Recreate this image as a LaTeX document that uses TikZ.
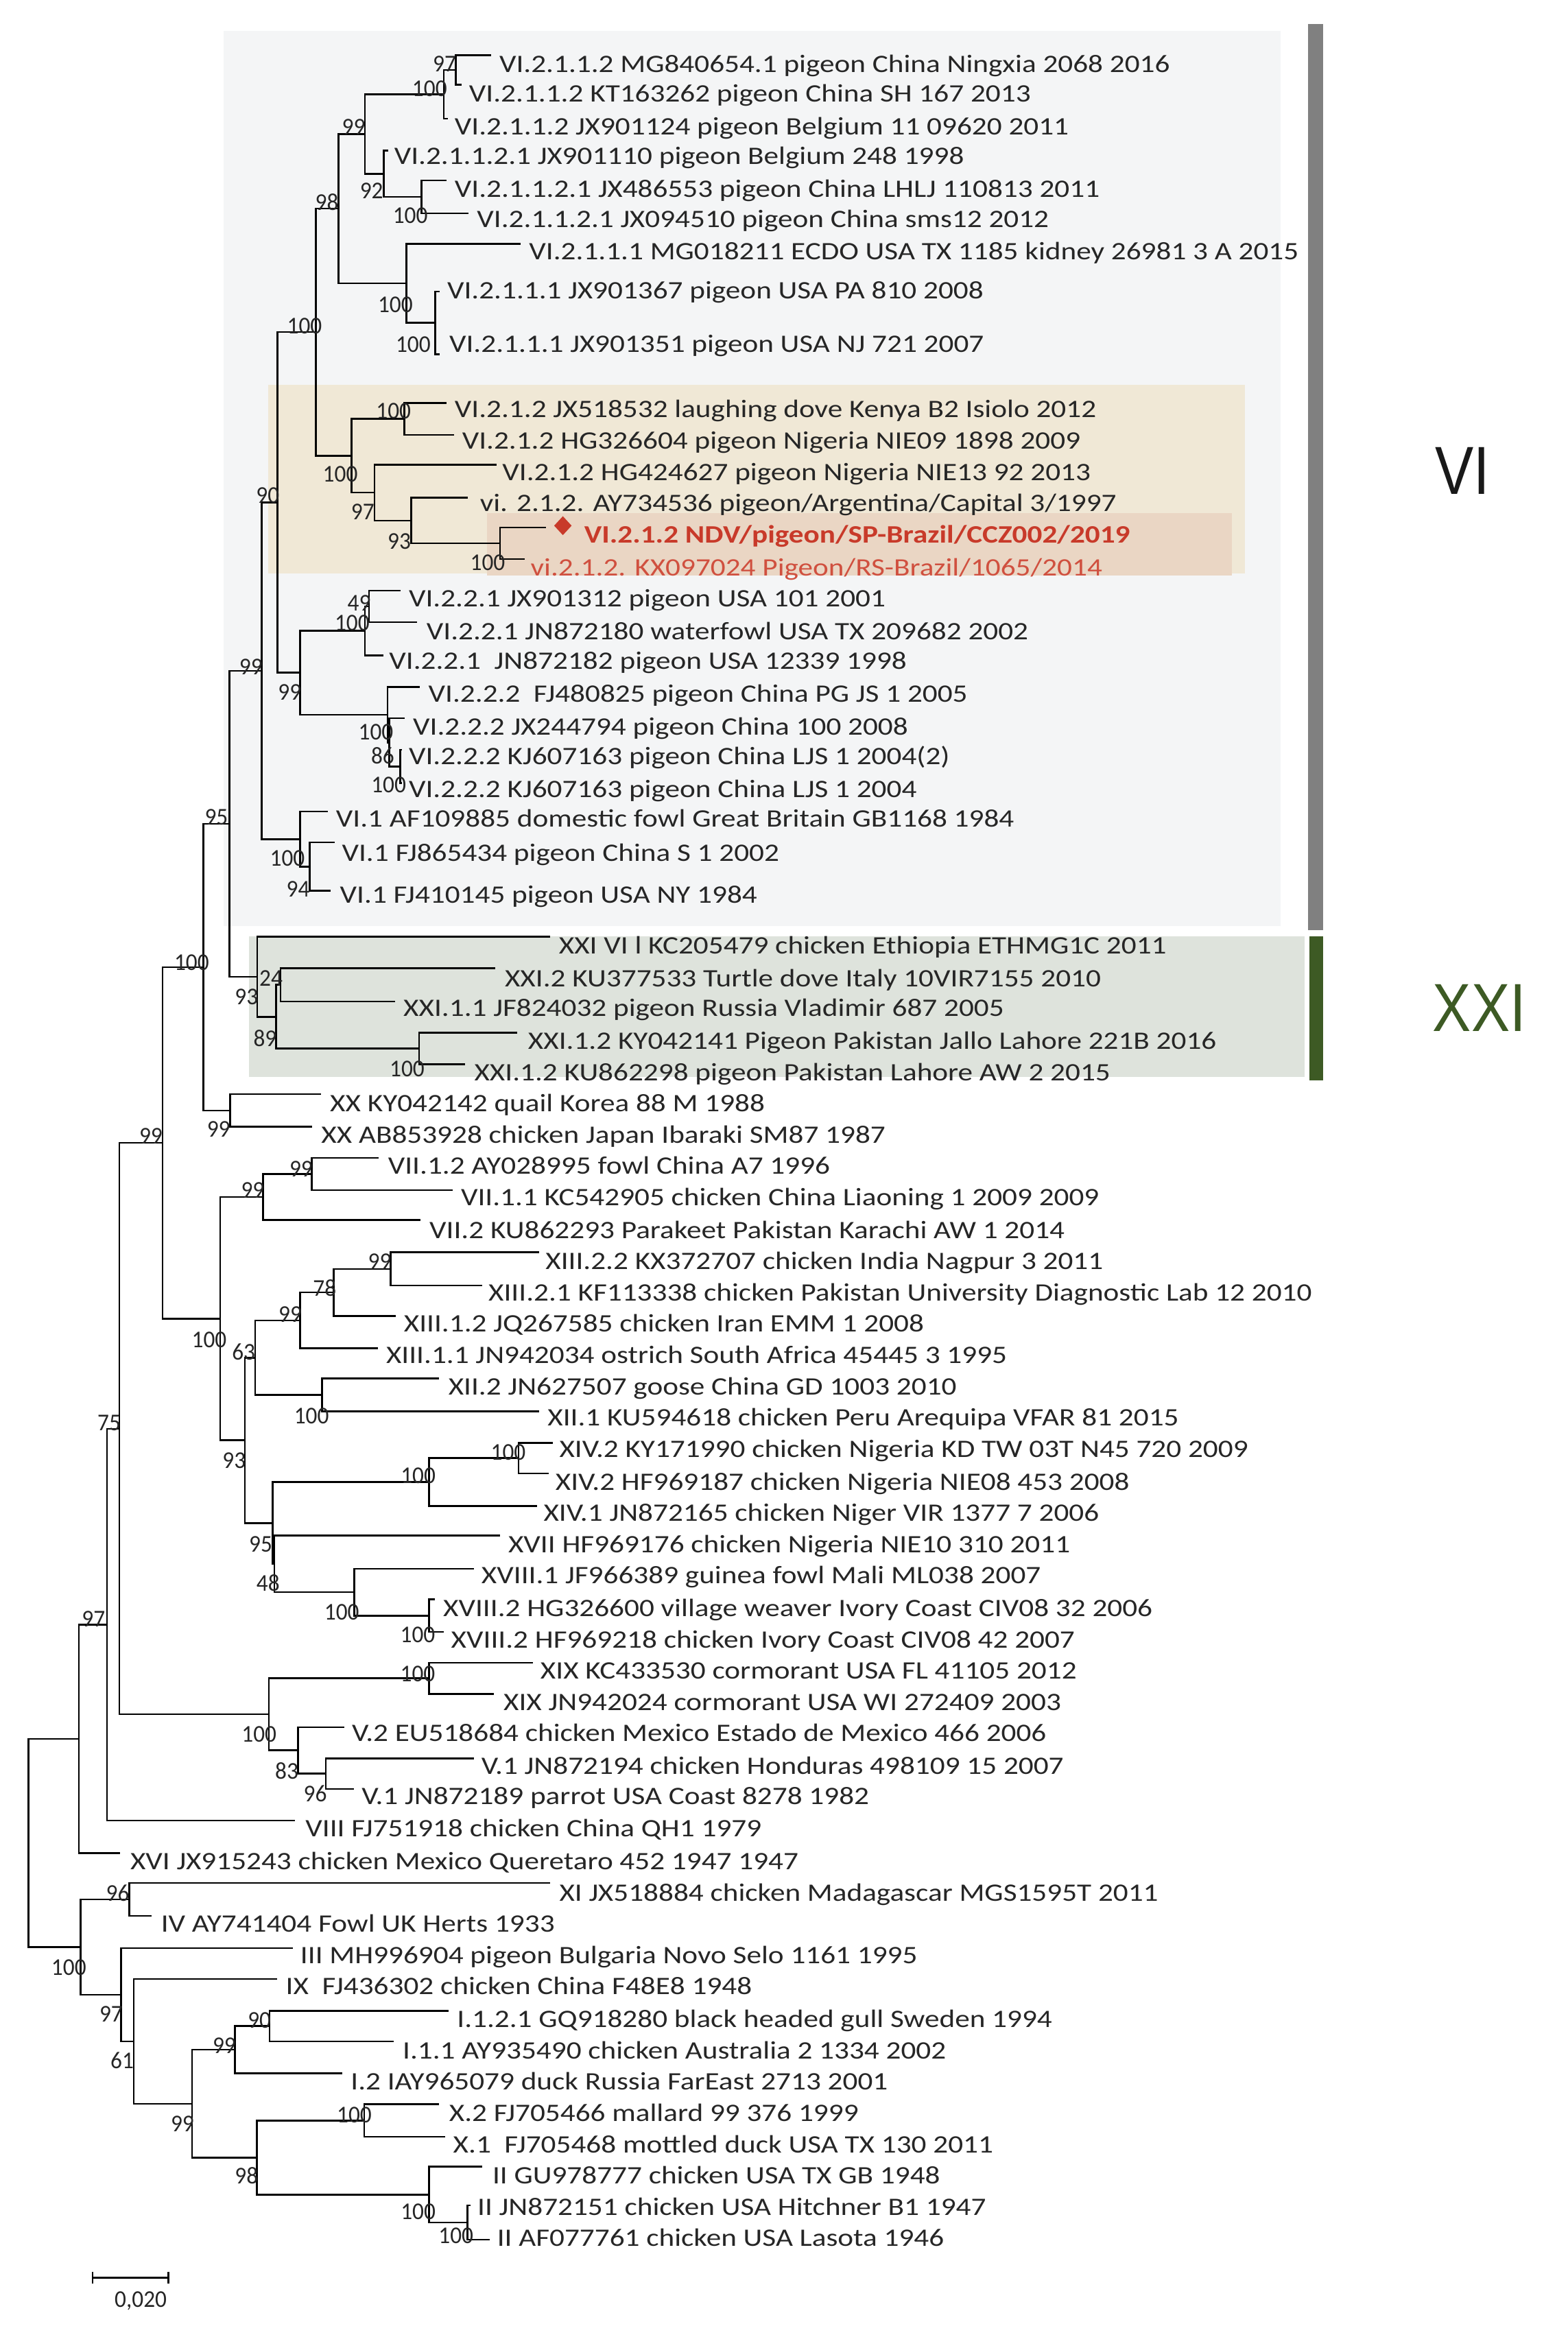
\documentclass[tikz,border=0pt]{standalone}
\usepackage{fontspec}
\setmainfont{Carlito}[FakeStretch=1.18]
\newfontfamily\bootfont{Carlito}[FakeStretch=0.95]
\newfontfamily\cladefont{Liberation Sans}[FakeStretch=0.85]
\usetikzlibrary{shapes.geometric}
\definecolor{txt}{HTML}{262626}
\definecolor{boxvi}{HTML}{F4F5F6}
\definecolor{boxsub}{HTML}{F0E8D6}
\definecolor{boxndv}{HTML}{EAD6C4}
\definecolor{boxxxi}{HTML}{DEE3DC}
\definecolor{barvi}{HTML}{808080}
\definecolor{barxxi}{HTML}{3D5A24}
\definecolor{ndvred}{HTML}{C83A2A}
\definecolor{ndvlight}{HTML}{D0503F}

\begin{document}
\begin{tikzpicture}[x=0.02cm, y=-0.02cm,
    leaf/.style={anchor=base west, inner sep=0pt, text=txt, font=\fontsize{9.6}{11}\selectfont},
    boot/.style={inner sep=0pt, text=txt, font=\bootfont\fontsize{9.2}{10}\selectfont},
    branch/.style={line width=0.68pt, draw=black},
    clade/.style={inner sep=0pt, font=\cladefont\fontsize{26}{30}\selectfont}
  ]
  \useasboundingbox (0,0) rectangle (1053,1568);

  % clade shading and bars
  \fill[boxvi] (150,20.5) rectangle (860,622);
  \fill[boxsub] (180,258.5) rectangle (836,385);
  \fill[boxndv] (327,344.5) rectangle (827.5,386.5);
  \fill[boxxxi] (167,628.6) rectangle (876,723);
  \fill[barvi] (878.5,16) rectangle (888.7,624.4);
  \fill[barxxi] (879.2,628.6) rectangle (888.7,725.5);
  \node[clade, text=black!90] (cVI) at (982,316) {VI};
  \node[clade, text=barxxi] (cXXI) at (993.5,677) {XXI};

  % branch tips
  \coordinate (l1) at (330,37);     \coordinate (l2) at (310,57);
  \coordinate (l3) at (301,79.6);   \coordinate (l4) at (260.5,101);
  \coordinate (l5) at (300,121.1);  \coordinate (l6) at (314.5,143.3);
  \coordinate (l7) at (349.5,163.8);\coordinate (l8) at (295.4,195.7);
  \coordinate (l9) at (295.4,237.8);\coordinate (l10) at (300,270.5);
  \coordinate (l11) at (305,292);   \coordinate (l12) at (333.7,312);
  \coordinate (l13) at (314,334.3); \coordinate (l14) at (366.7,354.3);
  \coordinate (l15) at (352.2,375.4);\coordinate (l16) at (269,396.6);
  \coordinate (l17) at (280,417.7); \coordinate (l18) at (257.5,440);
  \coordinate (l19) at (282,461.2); \coordinate (l20) at (272,482.3);
  \coordinate (l21) at (270,503.5); \coordinate (l22) at (270,525.8);
  \coordinate (l23) at (220,545);   \coordinate (l24) at (225,565.7);
  \coordinate (l25) at (222,598.1); \coordinate (l26) at (369.5,629);
  \coordinate (l27) at (332.8,650.2);\coordinate (l28) at (265.3,672.5);
  \coordinate (l29) at (347.5,693.6);\coordinate (l30) at (312.3,714.8);
  \coordinate (l31) at (215.4,734.7);\coordinate (l32) at (209.5,756.6);
  \coordinate (l33) at (254.3,777.5);\coordinate (l34) at (303.9,799.1);
  \coordinate (l35) at (282.3,819.3);\coordinate (l36) at (362.1,840.9);
  \coordinate (l37) at (323.8,863.3);\coordinate (l38) at (265.6,883.7);
  \coordinate (l39) at (253.7,905.5);\coordinate (l40) at (294.7,925.5);
  \coordinate (l41) at (362.1,947.8);\coordinate (l42) at (371.3,969);
  \coordinate (l43) at (368.7,989.4);\coordinate (l44) at (360.8,1011.2);
  \coordinate (l45) at (335.7,1031.2);\coordinate (l46) at (318.5,1053.4);
  \coordinate (l47) at (292,1073.9); \coordinate (l48) at (298.1,1095.9);
  \coordinate (l49) at (358.1,1116.5);\coordinate (l50) at (331.7,1137.6);
  \coordinate (l51) at (231.3,1159.8);\coordinate (l52) at (318.5,1180.8);
  \coordinate (l53) at (237.9,1201.3);\coordinate (l54) at (198.2,1222.5);
  \coordinate (l55) at (80.6,1244.5); \coordinate (l56) at (369.5,1264.4);
  \coordinate (l57) at (101.8,1286.6);\coordinate (l58) at (196.9,1308.2);
  \coordinate (l59) at (186.3,1328.9);\coordinate (l60) at (301.3,1350.2);
  \coordinate (l61) at (264.3,1370.8);\coordinate (l62) at (229.9,1392.3);
  \coordinate (l63) at (294.7,1413);  \coordinate (l64) at (299,1434.9);
  \coordinate (l65) at (323.8,1455);  \coordinate (l66) at (316,1481);
  \coordinate (l67) at (329,1504);

  % internal nodes
  \coordinate (nA) at (306,47);      \coordinate (nB) at (298,63.3);
  \coordinate (nE) at (257.6,116.7); \coordinate (nF) at (283,132.2);
  \coordinate (nG) at (245.1,90);    \coordinate (nC) at (292.2,216.8);
  \coordinate (nD) at (272.9,190.3); \coordinate (nH) at (227.4,140.1);
  \coordinate (nM) at (271.6,281.2); \coordinate (nP) at (335.8,364.9);
  \coordinate (nO) at (276.1,349.6); \coordinate (nN) at (251.5,330.8);
  \coordinate (nJ) at (236.2,306);   \coordinate (nI) at (212.1,223);
  \coordinate (nT) at (247.8,407.2); \coordinate (nS) at (245.1,423.6);
  \coordinate (nV) at (268.9,514.7); \coordinate (nW) at (261.5,498.5);
  \coordinate (nU) at (260.2,479.9); \coordinate (nQ) at (201.5,451.7);
  \coordinate (nK) at (186.2,337.4); \coordinate (nY) at (208.1,581.9);
  \coordinate (nX) at (201.5,563.5); \coordinate (nR) at (175.6,450.5);
  \coordinate (nAC) at (188.4,661.3);\coordinate (nAD) at (281.5,704.2);
  \coordinate (nAB) at (185.4,682.8);\coordinate (nAA) at (172.8,655.9);
  \coordinate (nZ) at (154,553.2);   \coordinate (nAE) at (154.6,745.7);
  \coordinate (nAF) at (136.7,649.5);\coordinate (nAK) at (209.3,788.3);
  \coordinate (nAJ) at (176.6,803.8);\coordinate (nAP) at (262.4,852.1);
  \coordinate (nAO) at (224.1,867.9);\coordinate (nAN) at (201.4,886.7);
  \coordinate (nAQ) at (216.2,936.7);\coordinate (nAM) at (171.3,911.7);
  \coordinate (nAT) at (348.3,979.2);\coordinate (nAS) at (288.1,995.2);
  \coordinate (nAW) at (288.1,1084.9);\coordinate (nAV) at (237.9,1069.2);
  \coordinate (nAU) at (184.2,1050.2);\coordinate (nAR) at (183.2,1022.7);
  \coordinate (nAL) at (164.4,967.2);\coordinate (nAH) at (147.9,885.5);
  \coordinate (nAG) at (109.1,767.5);\coordinate (nAY) at (288.1,1127);
  \coordinate (nBA) at (218.8,1191); \coordinate (nAZ) at (200.1,1175.4);
  \coordinate (nAX) at (180.5,1151.2);\coordinate (nAI) at (80.1,959.4);
  \coordinate (nBB) at (71.9,1091);  \coordinate (nBC) at (52.9,1167.7);
  \coordinate (nBF) at (86.7,1275.5);\coordinate (nBK) at (181,1360.5);
  \coordinate (nBJ) at (157.8,1376.4);\coordinate (nBM) at (244.5,1424);
  \coordinate (nBO) at (314,1492.5); \coordinate (nBN) at (288.1,1473.8);
  \coordinate (nBL) at (172.6,1448.9);\coordinate (nBI) at (129,1412.7);
  \coordinate (nBH) at (89.9,1370.8);\coordinate (nBG) at (81.4,1339.5);
  \coordinate (nBE) at (54.2,1307.5);\coordinate (root) at (19,1237.6);

  % branches
  \foreach \p/\c in {nA/l1,nA/l2,nB/nA,nB/l3,nF/l5,nF/l6,nE/l4,nE/nF,nG/nB,nG/nE,
      nC/l8,nC/l9,nD/l7,nD/nC,nH/nG,nH/nD,nM/l10,nM/l11,nP/l14,nP/l15,nO/l13,nO/nP,
      nN/l12,nN/nO,nJ/nM,nJ/nN,nI/nH,nI/nJ,nT/l16,nT/l17,nS/nT,nS/l18,nV/l21,nV/l22,
      nW/l20,nW/nV,nU/l19,nU/nW,nQ/nS,nQ/nU,nK/nI,nK/nQ,nY/l24,nY/l25,nX/l23,nX/nY,
      nR/nK,nR/nX,nAC/l27,nAC/l28,nAD/l29,nAD/l30,nAB/nAC,nAB/nAD,nAA/l26,nAA/nAB,
      nZ/nR,nZ/nAA,nAE/l31,nAE/l32,nAF/nZ,nAF/nAE,nAK/l33,nAK/l34,nAJ/nAK,nAJ/l35,
      nAP/l36,nAP/l37,nAO/nAP,nAO/l38,nAN/nAO,nAN/l39,nAQ/l40,nAQ/l41,nAM/nAN,nAM/nAQ,
      nAT/l42,nAT/l43,nAS/nAT,nAS/l44,nAW/l47,nAW/l48,nAV/l46,nAV/nAW,nAU/l45,nAU/nAV,
      nAR/nAS,nAR/nAU,nAL/nAM,nAL/nAR,nAH/nAJ,nAH/nAL,nAG/nAF,nAG/nAH,nAY/l49,nAY/l50,
      nBA/l52,nBA/l53,nAZ/l51,nAZ/nBA,nAX/nAY,nAX/nAZ,nAI/nAG,nAI/nAX,nBB/nAI,nBB/l54,
      nBC/nBB,nBC/l55,nBF/l56,nBF/l57,nBK/l60,nBK/l61,nBJ/nBK,nBJ/l62,nBM/l63,nBM/l64,
      nBO/l66,nBO/l67,nBN/l65,nBN/nBO,nBL/nBM,nBL/nBN,nBI/nBJ,nBI/nBL,nBH/l59,nBH/nBI,
      nBG/l58,nBG/nBH,nBE/nBF,nBE/nBG,root/nBC,root/nBE}
    \draw[branch] (\p) |- (\c);

  % bootstrap values
  \foreach \x/\y/\v [count=\i] in {298.5/43/97,288.5/59.5/100,237.5/85.2/99,219.5/135.5/98,
      249.5/128/92,275.5/144.8/100,265.5/204.4/100,277.5/231.2/100,204.5/219/100,
      264.3/275.9/100,228.5/318.5/100,243.6/343.8/97,268.1/363.7/93,327.5/378/100,
      179.8/332.5/90,194.5/464.7/99,241.2/404.8/49,236.5/418.3/100,252.4/491.7/100,
      257/507.5/86,261/527/100,193/576.2/100,200.2/596.8/94,168.5/447.7/99,145.3/548.7/95,
      182/657/24,165.5/669.5/93,178/697/89,273.4/717.7/100,128.7/646.6/100,146.8/758.2/99,
      101.3/762.7/99,202.2/785.1/99,169.7/799.2/99,255/847.3/99,218/865/78,194.9/882.6/99,
      140.5/899.7/100,163.6/907.9/63,209.2/950.7/100,341.3/975.4/100,280.8/990.7/100,
      157.2/980.7/93,175.1/1037/95,180/1063.1/48,229.5/1082.6/100,280.5/1098/100,
      280.5/1124.2/100,174/1164.8/100,192.6/1189/83,211.7/1204.4/96,62.8/1087.2/97,
      73.3/955.4/75,79/1271.1/96,46.2/1321/100,74.6/1352.6/97,82/1383.6/61,
      174.2/1356.8/90,150.6/1373.8/99,122.5/1426/99,237.9/1420.3/100,280.8/1485/100,
      306.2/1501.4/100,165.5/1461.1/98}
    \node[boot] (b\i) at (\x,\y) {\v};

  % isolate names
  \node[leaf] (t1) at (335,48.5) {VI.2.1.1.2 MG840654.1 pigeon China Ningxia 2068 2016};
  \node[leaf] (t2) at (314.7,68.5) {VI.2.1.1.2 KT163262 pigeon China SH 167 2013};
  \node[leaf] (t3) at (305,90.5) {VI.2.1.1.2 JX901124 pigeon Belgium 11 09620 2011};
  \node[leaf] (t4) at (264.4,110.5) {VI.2.1.1.2.1 JX901110 pigeon Belgium 248 1998};
  \node[leaf] (t5) at (305,132.5) {VI.2.1.1.2.1 JX486553 pigeon China LHLJ 110813 2011};
  \node[leaf] (t6) at (320,152.5) {VI.2.1.1.2.1 JX094510 pigeon China sms12 2012};
  \node[leaf] (t7) at (355,174.5) {VI.2.1.1.1 MG018211 ECDO USA TX 1185 kidney 26981 3 A 2015};
  \node[leaf] (t8) at (300,200.5) {VI.2.1.1.1 JX901367 pigeon USA PA 810 2008};
  \node[leaf] (t9) at (301.4,236.5) {VI.2.1.1.1 JX901351 pigeon USA NJ 721 2007};
  \node[leaf] (t10) at (305,280.5) {VI.2.1.2 JX518532 laughing dove Kenya B2 Isiolo 2012};
  \node[leaf] (t11) at (310,301.5) {VI.2.1.2 HG326604 pigeon Nigeria NIE09 1898 2009};
  \node[leaf] (t12) at (337,322.5) {VI.2.1.2 HG424627 pigeon Nigeria NIE13 92 2013};
  \node[leaf] (t13) at (322,343.5) {vi. 2.1.2. AY734536 pigeon/Argentina/Capital 3/1997};
  \node[diamond, fill=ndvred, inner sep=0pt, minimum width=0.24cm, minimum height=0.26cm] (dm) at (378,353) {};
  \node[leaf, text=ndvred, font=\bfseries\fontsize{9.6}{11}\selectfont] (t14) at (392,364.5) {VI.2.1.2 NDV/pigeon/SP-Brazil/CCZ002/2019};
  \node[leaf, text=ndvlight] (t15) at (356,386.5) {vi.2.1.2. KX097024 Pigeon/RS-Brazil/1065/2014};
  \node[leaf] (t16) at (274.2,407.5) {VI.2.2.1 JX901312 pigeon USA 101 2001};
  \node[leaf] (t17) at (286.1,429.5) {VI.2.2.1 JN872180 waterfowl USA TX 209682 2002};
  \node[leaf] (t18) at (261,449.5) {VI.2.2.1~ JN872182 pigeon USA 12339 1998};
  \node[leaf] (t19) at (287.4,471.5) {VI.2.2.2~ FJ480825 pigeon China PG JS 1 2005};
  \node[leaf] (t20) at (277,493.5) {VI.2.2.2 JX244794 pigeon China 100 2008};
  \node[leaf] (t21) at (274.2,513.5) {VI.2.2.2 KJ607163 pigeon China LJS 1 2004(2)};
  \node[leaf] (t22) at (274.2,535.5) {VI.2.2.2 KJ607163 pigeon China LJS 1 2004};
  \node[leaf] (t23) at (225.3,555.5) {VI.1 AF109885 domestic fowl Great Britain GB1168 1984};
  \node[leaf] (t24) at (229.3,578.5) {VI.1 FJ865434 pigeon China S 1 2002};
  \node[leaf] (t25) at (228,606.5) {VI.1 FJ410145 pigeon USA NY 1984};
  \node[leaf] (t26) at (375,640.5) {XXI VI l KC205479 chicken Ethiopia ETHMG1C 2011};
  \node[leaf] (t27) at (338.7,662.5) {XXI.2 KU377533 Turtle dove Italy 10VIR7155 2010};
  \node[leaf] (t28) at (270.6,682.5) {XXI.1.1 JF824032 pigeon Russia Vladimir 687 2005};
  \node[leaf] (t29) at (354.3,704.5) {XXI.1.2 KY042141 Pigeon Pakistan Jallo Lahore 221B 2016};
  \node[leaf] (t30) at (318.2,725.5) {XXI.1.2 KU862298 pigeon Pakistan Lahore AW 2 2015};
  \node[leaf] (t31) at (221.3,746.5) {XX KY042142 quail Korea 88 M 1988};
  \node[leaf] (t32) at (215.4,767.5) {XX AB853928 chicken Japan Ibaraki SM87 1987};
  \node[leaf] (t33) at (260.3,788.5) {VII.1.2 AY028995 fowl China A7 1996};
  \node[leaf] (t34) at (309.2,809.5) {VII.1.1 KC542905 chicken China Liaoning 1 2009 2009};
  \node[leaf] (t35) at (288.1,831.5) {VII.2 KU862293 Parakeet Pakistan Karachi AW 1 2014};
  \node[leaf] (t36) at (366,852.5) {XIII.2.2 KX372707 chicken India Nagpur 3 2011};
  \node[leaf] (t37) at (327.7,873.5) {XIII.2.1 KF113338 chicken Pakistan University Diagnostic Lab 12 2010};
  \node[leaf] (t38) at (270.9,894.5) {XIII.1.2 JQ267585 chicken Iran EMM 1 2008};
  \node[leaf] (t39) at (259,915.5) {XIII.1.1 JN942034 ostrich South Africa 45445 3 1995};
  \node[leaf] (t40) at (300.8,936.5) {XII.2 JN627507 goose China GD 1003 2010};
  \node[leaf] (t41) at (367.4,957.5) {XII.1 KU594618 chicken Peru Arequipa VFAR 81 2015};
  \node[leaf] (t42) at (375.3,978.5) {XIV.2 KY171990 chicken Nigeria KD TW 03T N45 720 2009};
  \node[leaf] (t43) at (372.7,1000.5) {XIV.2 HF969187 chicken Nigeria NIE08 453 2008};
  \node[leaf] (t44) at (364.7,1021.5) {XIV.1 JN872165 chicken Niger VIR 1377 7 2006};
  \node[leaf] (t45) at (341,1042.5) {XVII HF969176 chicken Nigeria NIE10 310 2011};
  \node[leaf] (t46) at (323,1063.5) {XVIII.1 JF966389 guinea fowl Mali ML038 2007};
  \node[leaf] (t47) at (297.3,1085.5) {XVIII.2 HG326600 village weaver Ivory Coast CIV08 32 2006};
  \node[leaf] (t48) at (302.6,1106.5) {XVIII.2 HF969218 chicken Ivory Coast CIV08 42 2007};
  \node[leaf] (t49) at (362.6,1127.5) {XIX KC433530 cormorant USA FL 41105 2012};
  \node[leaf] (t50) at (337.8,1148.5) {XIX JN942024 cormorant USA WI 272409 2003};
  \node[leaf] (t51) at (236,1169.5) {V.2 EU518684 chicken Mexico Estado de Mexico 466 2006};
  \node[leaf] (t52) at (323,1191.5) {V.1 JN872194 chicken Honduras 498109 15 2007};
  \node[leaf] (t53) at (242.6,1211.5) {V.1 JN872189 parrot USA Coast 8278 1982};
  \node[leaf] (t54) at (204.8,1233.5) {VIII FJ751918 chicken China QH1 1979};
  \node[leaf] (t55) at (87.2,1255.5) {XVI JX915243 chicken Mexico Queretaro 452 1947 1947};
  \node[leaf] (t56) at (375.3,1276.5) {XI JX518884 chicken Madagascar MGS1595T 2011};
  \node[leaf] (t57) at (107.8,1297.5) {IV AY741404 Fowl UK Herts 1933};
  \node[leaf] (t58) at (201.4,1318.5) {III MH996904 pigeon Bulgaria Novo Selo 1161 1995};
  \node[leaf] (t59) at (191.6,1339.5) {IX~ FJ436302 chicken China F48E8 1948};
  \node[leaf] (t60) at (306.6,1361.5) {I.1.2.1 GQ918280 black headed gull Sweden 1994};
  \node[leaf] (t61) at (270.1,1382.5) {I.1.1 AY935490 chicken Australia 2 1334 2002};
  \node[leaf] (t62) at (235.2,1403.5) {I.2 IAY965079 duck Russia FarEast 2713 2001};
  \node[leaf] (t63) at (301.3,1424.5) {X.2 FJ705466 mallard 99 376 1999};
  \node[leaf] (t64) at (304,1445.5) {X.1~ FJ705468 mottled duck USA TX 130 2011};
  \node[leaf] (t65) at (330.4,1466.5) {II GU978777 chicken USA TX GB 1948};
  \node[leaf] (t66) at (320.3,1487.5) {II JN872151 chicken USA Hitchner B1 1947};
  \node[leaf] (t67) at (333.5,1508.5) {II AF077761 chicken USA Lasota 1946};

  % scale bar
  \coordinate (s1) at (62.1,1529.4);
  \coordinate (s2) at (113.1,1529.4);
  \draw[branch] (s1) -- (s2);
  \draw[branch] ([yshift=0.08cm]s1) -- ([yshift=-0.08cm]s1);
  \draw[branch] ([yshift=0.08cm]s2) -- ([yshift=-0.08cm]s2);
  \node[boot] (sc) at (94.5,1545) {0,020};
\end{tikzpicture}
\end{document}
